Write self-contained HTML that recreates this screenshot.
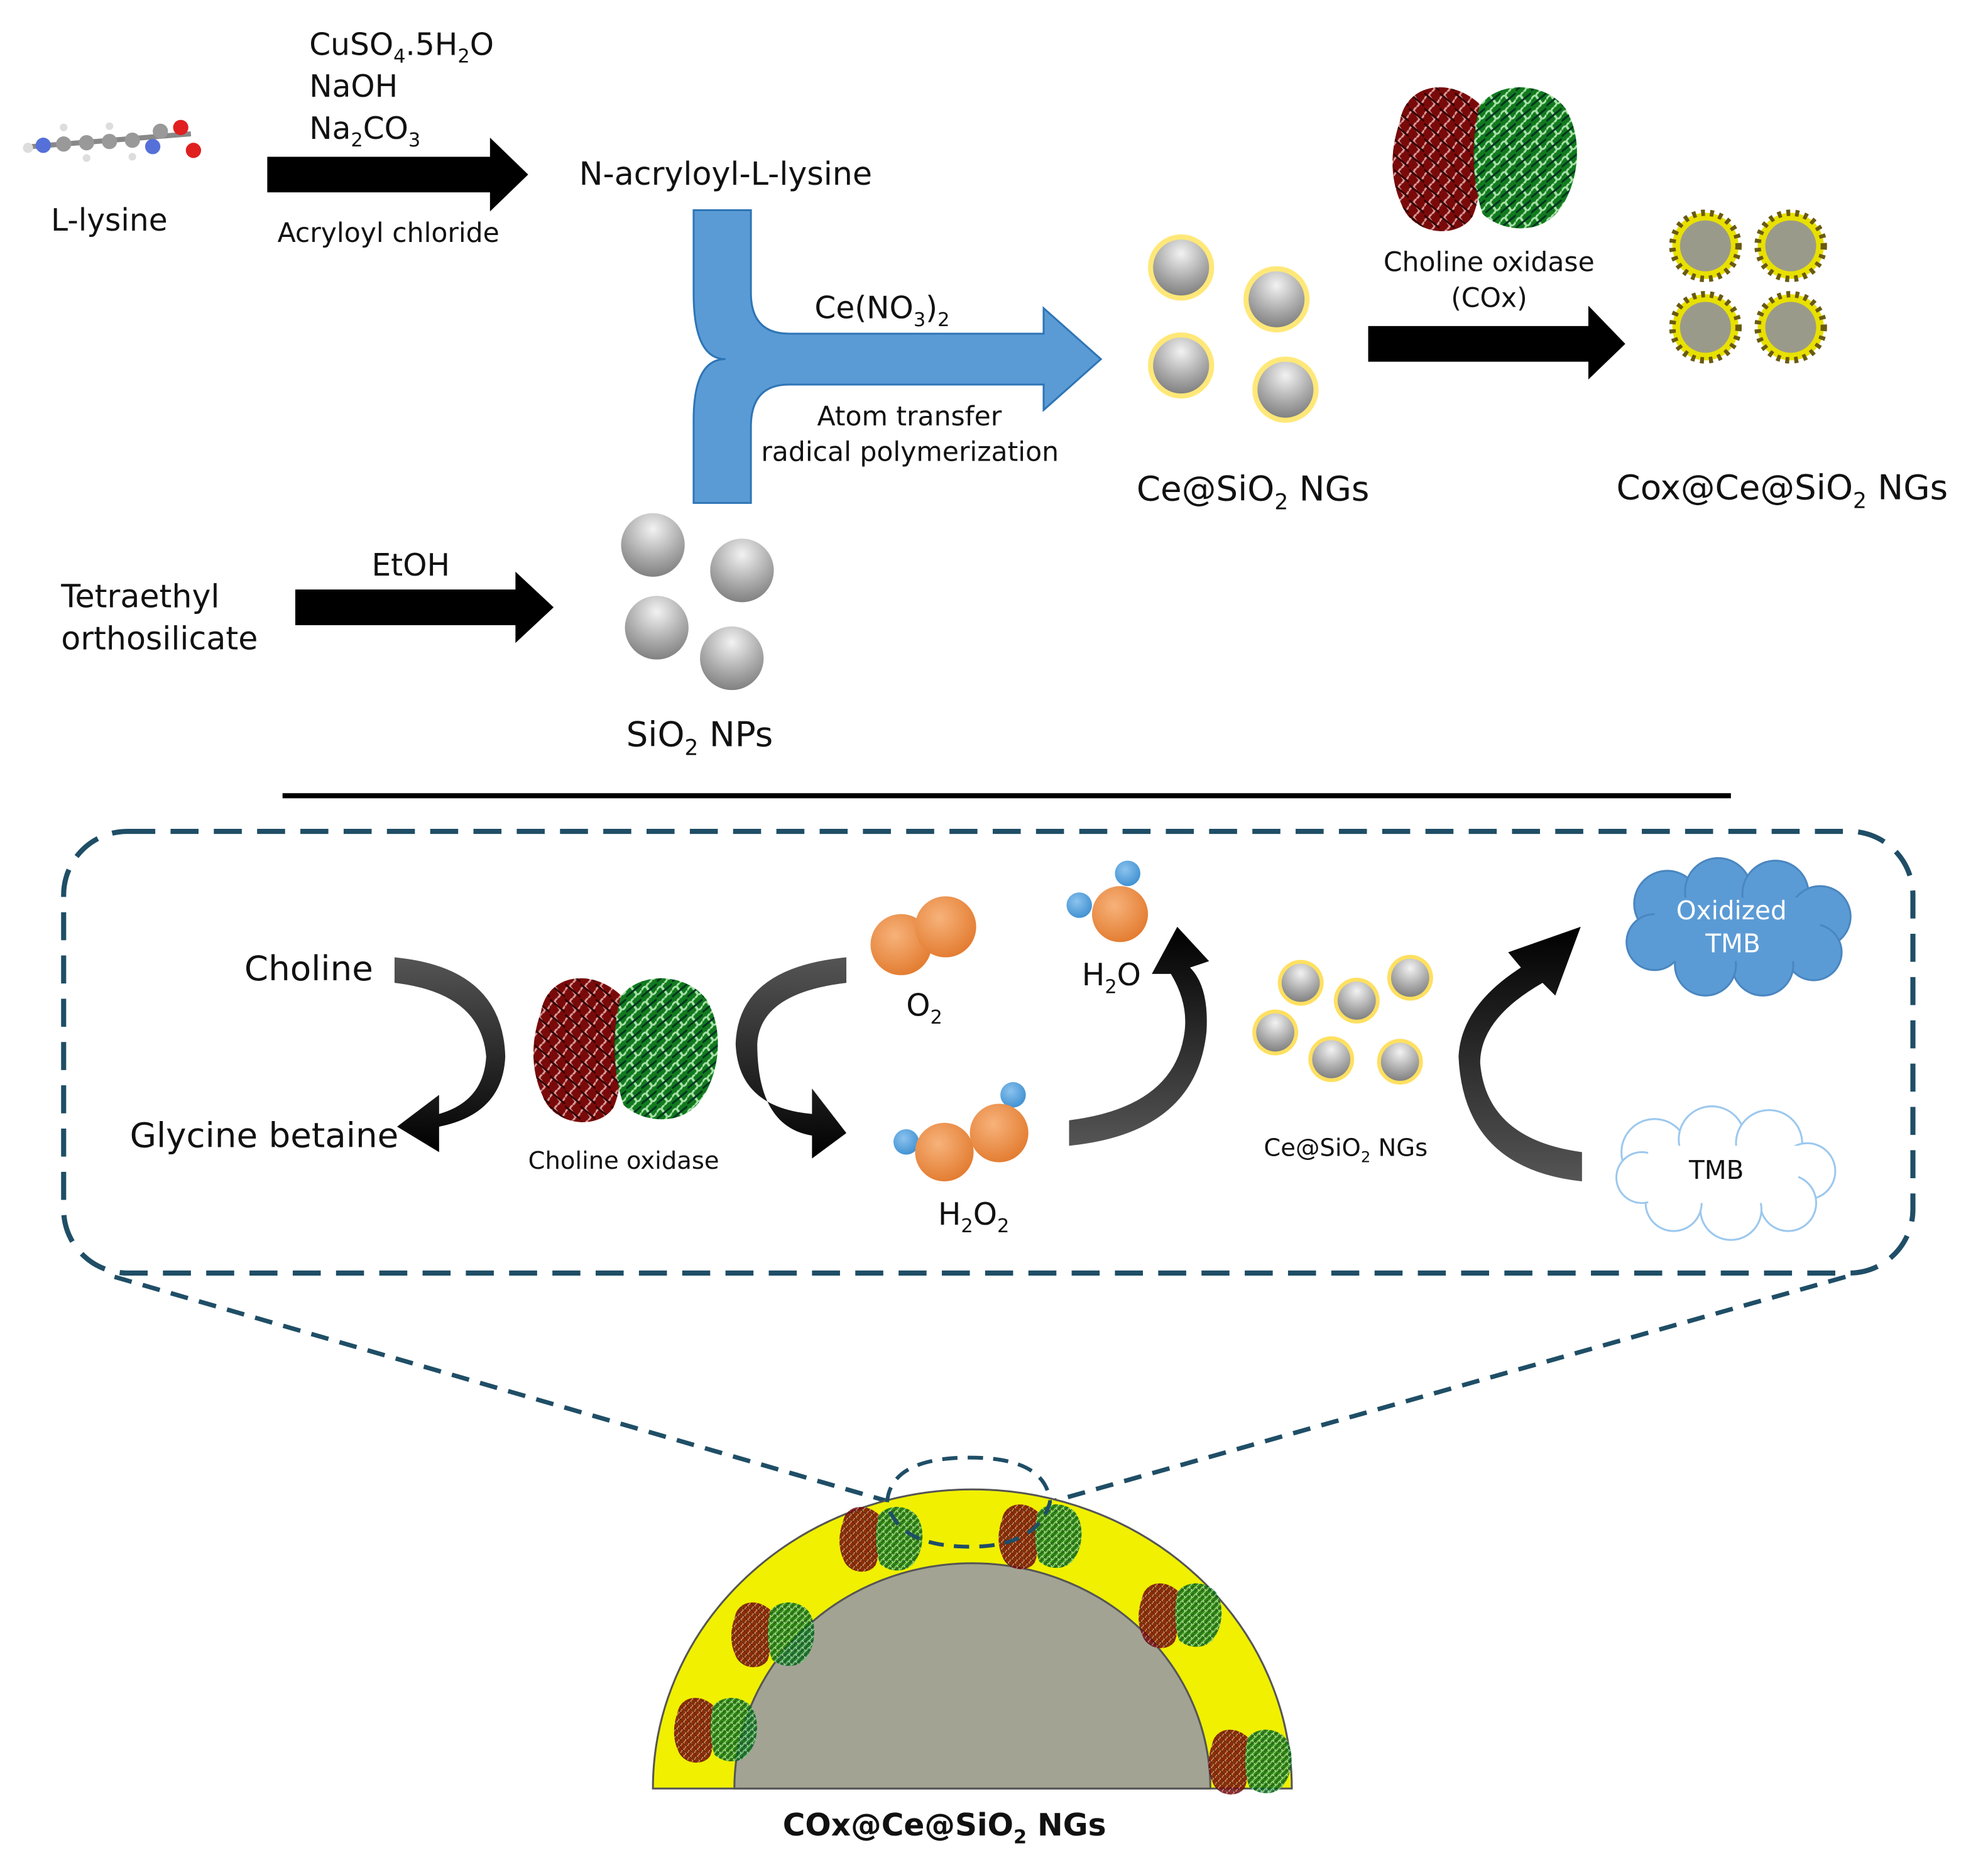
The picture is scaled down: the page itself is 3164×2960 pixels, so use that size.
<!DOCTYPE html>
<html><head><meta charset="utf-8"><style>
html,body{margin:0;padding:0;background:#fff}
svg{display:block}
text{font-family:"DejaVu Sans","Liberation Sans",sans-serif;fill:#111}
</style></head><body>
<svg width="3164" height="2960" viewBox="0 0 1562 1461" xmlns="http://www.w3.org/2000/svg">
<defs>
<radialGradient id="gs" cx="0.5" cy="0.25" r="0.8"><stop offset="0" stop-color="#f2f2f2"/><stop offset="0.6" stop-color="#a8a8a8"/><stop offset="1" stop-color="#7a7a7a"/></radialGradient>
<radialGradient id="og" cx="0.4" cy="0.35" r="0.7"><stop offset="0" stop-color="#f7b27a"/><stop offset="1" stop-color="#e27a2e"/></radialGradient>
<radialGradient id="bg" cx="0.4" cy="0.35" r="0.7"><stop offset="0" stop-color="#8cc3ee"/><stop offset="1" stop-color="#3d8fd1"/></radialGradient>
<linearGradient id="ag" x1="0" y1="0" x2="0" y2="1"><stop offset="0" stop-color="#555"/><stop offset="1" stop-color="#000"/></linearGradient>
<linearGradient id="ag2" x1="0" y1="1" x2="0" y2="0"><stop offset="0" stop-color="#555"/><stop offset="1" stop-color="#000"/></linearGradient>
<pattern id="rp" width="12" height="12" patternUnits="userSpaceOnUse">
<rect width="12" height="12" fill="#7a0a0a"/><path d="M0,6 q3,-6 6,0 t6,0 M6,0 q-4,3 0,6 t0,6" stroke="#d89a9a" stroke-width="1.5" fill="none"/><path d="M0,1 l12,10" stroke="#300" stroke-width="1.5"/></pattern>
<pattern id="gp" width="12" height="12" patternUnits="userSpaceOnUse">
<rect width="12" height="12" fill="#127a1e"/><path d="M0,6 q3,-6 6,0 t6,0 M6,0 q-4,3 0,6 t0,6" stroke="#a8e0a8" stroke-width="1.5" fill="none"/><path d="M12,1 l-12,10" stroke="#032" stroke-width="1.5"/></pattern>
<g id="enz">
<path d="M5,35 C10,5 45,0 68,22 C60,50 75,80 62,110 C50,128 15,125 6,100 C-4,78 -2,55 5,35Z" fill="url(#rp)"/>
<path d="M68,22 C85,2 120,5 135,25 C150,50 145,85 130,105 C115,125 85,122 70,108 C62,85 60,50 68,22Z" fill="url(#gp)"/>
</g>
<g id="ns"><circle r="26" fill="#ffe878"/><circle r="22" fill="url(#gs)"/></g>
<g id="cs"><circle r="26" fill="#e8e000"/><circle r="26" fill="none" stroke="#6a5a10" stroke-width="5" stroke-dasharray="3 4"/><circle r="20" fill="#9a9a8a"/></g>
<g id="ss"><circle r="18" fill="#ffe060"/><circle r="15" fill="url(#gs)"/></g>
</defs>

<g>
<line x1="25" y1="115" x2="150" y2="105" stroke="#888" stroke-width="4"/>
<circle cx="22" cy="116" r="4" fill="#ddd"/><circle cx="34" cy="114" r="6" fill="#5570d8"/>
<circle cx="50" cy="113" r="6" fill="#999"/><circle cx="68" cy="112" r="6" fill="#999"/>
<circle cx="86" cy="111" r="6" fill="#999"/><circle cx="104" cy="110" r="6" fill="#999"/>
<circle cx="120" cy="115" r="6" fill="#5570d8"/><circle cx="126" cy="103" r="6" fill="#999"/>
<circle cx="142" cy="100" r="6" fill="#e02020"/><circle cx="152" cy="118" r="6" fill="#e02020"/>
<circle cx="50" cy="100" r="3" fill="#ddd"/><circle cx="68" cy="124" r="3" fill="#ddd"/><circle cx="86" cy="99" r="3" fill="#ddd"/><circle cx="104" cy="123" r="3" fill="#ddd"/>
</g>
<text x="40" y="181" font-size="24">L-lysine</text>
<text x="243" y="43" font-size="24">CuSO<tspan font-size="15" dy="6">4</tspan><tspan dy="-6">.5H</tspan><tspan font-size="15" dy="6">2</tspan><tspan dy="-6">O</tspan></text>
<text x="243" y="76" font-size="24">NaOH</text>
<text x="243" y="109" font-size="24">Na<tspan font-size="15" dy="6">2</tspan><tspan dy="-6">CO</tspan><tspan font-size="15" dy="6">3</tspan></text>
<polygon points="210,123 385,123 385,108 415,137 385,166 385,151 210,151" fill="#000"/>
<text x="218" y="190" font-size="21">Acryloyl  chloride</text>
<text x="455" y="145" font-size="25">N-acryloyl-L-lysine</text>

<path d="M545,165 L590,165 L590,230 Q590,262 620,262 L820,262 L820,242 L865,282 L820,322 L820,302 L620,302 Q590,302 590,335 L590,395 L545,395 L545,330 Q545,282 570,282 Q545,282 545,230 Z" fill="#5b9bd5" stroke="#2e75b6" stroke-width="1.5"/>
<text x="640" y="250" font-size="24">Ce(NO<tspan font-size="15" dy="6">3</tspan><tspan dy="-6">)</tspan><tspan font-size="15" dy="6">2</tspan></text>
<text x="642" y="334" font-size="21">Atom  transfer</text>
<text x="598" y="362" font-size="21">radical  polymerization</text>

<use href="#ns" x="928" y="210"/><use href="#ns" x="1003" y="235"/><use href="#ns" x="928" y="287"/><use href="#ns" x="1010" y="306"/>
<text x="893" y="393" font-size="27">Ce@SiO<tspan font-size="17" dy="7">2</tspan><tspan dy="-7"> NGs</tspan></text>

<use href="#enz" x="1095" y="60"/>
<text x="1087" y="213" font-size="21">Choline oxidase</text>
<text x="1140" y="241" font-size="21">(COx)</text>
<polygon points="1075,256 1248,256 1248,240 1277,270 1248,298 1248,284 1075,284" fill="#000"/>
<use href="#cs" x="1340" y="193"/><use href="#cs" x="1407" y="193"/><use href="#cs" x="1340" y="257"/><use href="#cs" x="1407" y="257"/>
<text x="1270" y="392" font-size="27">Cox@Ce@SiO<tspan font-size="17" dy="7">2</tspan><tspan dy="-7"> NGs</tspan></text>

<text x="48" y="477" font-size="25">Tetraethyl</text>
<text x="48" y="510" font-size="25">orthosilicate</text>
<text x="292" y="452" font-size="24">EtOH</text>
<polygon points="232,463 405,463 405,449 435,477 405,505 405,491 232,491" fill="#000"/>
<circle cx="513" cy="428" r="25" fill="url(#gs)"/><circle cx="583" cy="448" r="25" fill="url(#gs)"/><circle cx="516" cy="493" r="25" fill="url(#gs)"/><circle cx="575" cy="517" r="25" fill="url(#gs)"/>
<text x="492" y="586" font-size="27">SiO<tspan font-size="17" dy="7">2</tspan><tspan dy="-7"> NPs</tspan></text>

<line x1="222" y1="625" x2="1360" y2="625" stroke="#000" stroke-width="4"/>

<rect x="50" y="653" width="1453" height="347" rx="50" fill="none" stroke="#1f4e66" stroke-width="4" stroke-dasharray="22 12"/>
<line x1="90" y1="1003" x2="700" y2="1180" stroke="#1f4e66" stroke-width="3.5" stroke-dasharray="14 9"/>
<line x1="1450" y1="1003" x2="825" y2="1180" stroke="#1f4e66" stroke-width="3.5" stroke-dasharray="14 9"/>

<text x="192" y="770" font-size="27">Choline</text>
<text x="102" y="901" font-size="27">Glycine betaine</text>
<path d="M310,752 Q395,760 397,830 Q395,875 345,885 L345,905 L312,885 L345,860 L345,875 Q380,865 382,830 Q378,780 310,772 Z" fill="url(#ag)"/>
<use href="#enz" x="420" y="760"/>
<text x="415" y="918" font-size="19">Choline oxidase</text>
<path d="M665,752 Q580,760 578,820 Q580,870 638,875 L638,855 L665,890 L638,910 L638,892 Q595,885 595,820 Q597,780 665,772 Z" fill="url(#ag)"/>
<circle cx="708" cy="742" r="24" fill="url(#og)"/><circle cx="743" cy="728" r="24" fill="url(#og)"/>
<text x="712" y="798" font-size="24">O<tspan font-size="15" dy="6">2</tspan></text>
<circle cx="848" cy="711" r="10" fill="url(#bg)"/><circle cx="886" cy="686" r="10" fill="url(#bg)"/><circle cx="880" cy="718" r="22" fill="url(#og)"/>
<text x="850" y="774" font-size="24">H<tspan font-size="15" dy="6">2</tspan><tspan dy="-6">O</tspan></text>
<circle cx="712" cy="897" r="10" fill="url(#bg)"/><circle cx="796" cy="860" r="10" fill="url(#bg)"/>
<circle cx="742" cy="905" r="23" fill="url(#og)"/><circle cx="785" cy="890" r="23" fill="url(#og)"/>
<text x="737" y="962" font-size="24">H<tspan font-size="15" dy="6">2</tspan><tspan dy="-6">O</tspan><tspan font-size="15" dy="6">2</tspan></text>
<path d="M840,900 Q940,890 948,810 Q950,775 935,760 L950,755 L925,728 L905,765 L920,765 Q935,790 930,815 Q920,870 840,880 Z" fill="url(#ag2)"/>
<use href="#ss" x="1022" y="772"/><use href="#ss" x="1108" y="768"/><use href="#ss" x="1066" y="786"/><use href="#ss" x="1002" y="811"/><use href="#ss" x="1046" y="832"/><use href="#ss" x="1100" y="834"/>
<text x="993" y="908" font-size="19">Ce@SiO<tspan font-size="12" dy="5">2</tspan><tspan dy="-5"> NGs</tspan></text>
<path d="M1243,928 Q1150,918 1146,830 Q1148,790 1195,760 L1185,748 L1242,728 L1222,782 L1212,772 Q1163,800 1163,835 Q1168,895 1243,905 Z" fill="url(#ag2)"/>
<g fill="#5b9bd5" stroke="#4a86c0" stroke-width="1.5">
<circle cx="1310" cy="710" r="26"/><circle cx="1350" cy="700" r="26"/><circle cx="1395" cy="702" r="26"/><circle cx="1430" cy="720" r="24"/><circle cx="1425" cy="748" r="22"/><circle cx="1385" cy="758" r="24"/><circle cx="1340" cy="758" r="24"/><circle cx="1300" cy="740" r="22"/>
<rect x="1300" y="705" width="130" height="50" stroke="none"/></g>
<text x="1317" y="722" font-size="20" style="fill:#fff">Oxidized</text>
<text x="1340" y="748" font-size="20" style="fill:#fff">TMB</text>
<g fill="#fff" stroke="#9cc8ee" stroke-width="1.5">
<circle cx="1300" cy="905" r="26"/><circle cx="1345" cy="895" r="26"/><circle cx="1390" cy="898" r="26"/><circle cx="1420" cy="920" r="22"/><circle cx="1405" cy="945" r="22"/><circle cx="1360" cy="950" r="24"/><circle cx="1315" cy="945" r="22"/><circle cx="1290" cy="925" r="20"/></g>
<rect x="1295" y="900" width="118" height="45" fill="#fff"/>
<text x="1327" y="926" font-size="20">TMB</text>

<path d="M513,1405 A251,235 0 0 1 1015,1405 Z" fill="#f0f000" stroke="#555" stroke-width="1.5"/>
<path d="M577,1405 A187,177 0 0 1 951,1405 Z" fill="#a3a394" stroke="#555" stroke-width="1.5"/>
<g opacity="0.85">
<g transform="translate(660,1180) scale(0.45)"><use href="#enz"/></g>
<g transform="translate(785,1178) scale(0.45)"><use href="#enz"/></g>
<g transform="translate(895,1240) scale(0.45)"><use href="#enz"/></g>
<g transform="translate(575,1255) scale(0.45)"><use href="#enz"/></g>
<g transform="translate(530,1330) scale(0.45)"><use href="#enz"/></g>
<g transform="translate(950,1355) scale(0.45)"><use href="#enz"/></g>
</g>
<path d="M697,1180 Q700,1145 762,1145 Q822,1145 825,1180 Q815,1215 762,1215 Q705,1215 697,1180" fill="none" stroke="#1f4e66" stroke-width="3" stroke-dasharray="12 8"/>
<text x="615" y="1442" font-size="24" font-weight="bold">COx@Ce@SiO<tspan font-size="15" dy="6">2</tspan><tspan dy="-6"> NGs</tspan></text>
</svg>
</body></html>
